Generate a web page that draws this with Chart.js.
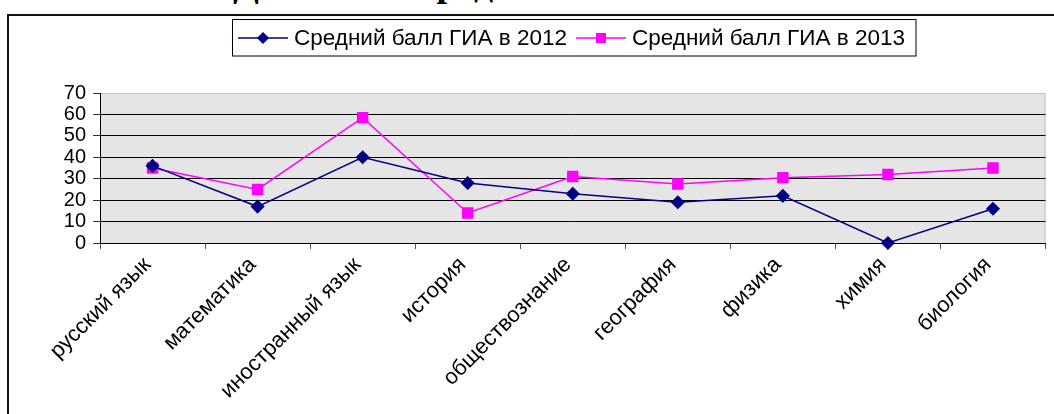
<!DOCTYPE html>
<html>
<head>
<meta charset="utf-8">
<script src="https://cdn.jsdelivr.net/npm/chart.js@4"></script>
<style>
  html, body { margin: 0; padding: 0; background: #fff; }
  #wrap { position: relative; width: 1054px; height: 414px; overflow: hidden; }
  #frame { position: absolute; left: 7px; top: 14px; width: 1200px; height: 600px;
           border-left: 2px solid #111; border-top: 2px solid #111; }
  #title { position: absolute; left: 233px; top: -36px; white-space: nowrap; color: #000;
           font: bold 38px/38px "Liberation Serif", "Times New Roman", serif; }
  canvas { position: absolute; left: 0; top: 0; }
</style>
</head>
<body>
<div id="wrap">
  <div id="title">Динамика средних баллов ГИА</div>
  <div id="frame"></div>
  <canvas id="chart" width="1054" height="414"></canvas>
</div>
<script>
// --- data ---
const subjects = [
  "русский язык", "математика", "иностранный язык", "история",
  "обществознание", "география", "физика", "химия", "биология"
];
const seriesNames = ["Средний балл ГИА в 2012", "Средний балл ГИА в 2013"];
const gia2012 = [36, 17, 40, 28, 23, 19, 22, 0, 16];
const gia2013 = [35, 25, 58.5, 14, 31, 27.5, 30.5, 32, 35];
const yTicks = [0, 10, 20, 30, 40, 50, 60, 70];

const FONT = "'Liberation Sans', Arial, sans-serif";

// grey plot background + light frame on top/right
const plotBg = {
  id: "plotBg",
  beforeDraw(chart) {
    const { ctx, chartArea: a } = chart;
    ctx.save();
    ctx.fillStyle = "#e5e5e5";
    ctx.fillRect(a.left, a.top, a.right - a.left, a.bottom - a.top);
    ctx.strokeStyle = "#c4c4c4";
    ctx.lineWidth = 1;
    ctx.beginPath();
    ctx.moveTo(a.left, a.top + 0.5);
    ctx.lineTo(a.right - 0.5, a.top + 0.5);
    ctx.lineTo(a.right - 0.5, a.bottom);
    ctx.stroke();
    ctx.restore();
  }
};

// boxed legend with line + marker samples (like the original office chart)
const boxLegend = {
  id: "boxLegend",
  afterDraw(chart) {
    const ctx = chart.ctx;
    const cy = 38;
    ctx.save();
    ctx.font = "22.5px " + FONT;
    let x = 238;
    const items = chart.data.datasets.map(ds => {
      const w = ctx.measureText(ds.label).width;
      const it = { ds, x, tx: x + 56, end: x + 56 + w };
      x = it.end + 9;
      return it;
    });
    const right = items[items.length - 1].end + 11;
    ctx.fillStyle = "#fff";
    ctx.fillRect(232.5, 19.5, right - 232.5, 36.5);
    ctx.strokeStyle = "#000";
    ctx.lineWidth = 1;
    ctx.strokeRect(232.5, 19.5, right - 232.5, 36.5);
    items.forEach(it => {
      ctx.strokeStyle = it.ds.borderColor;
      ctx.lineWidth = 1.5;
      ctx.beginPath();
      ctx.moveTo(it.x, cy);
      ctx.lineTo(it.x + 50, cy);
      ctx.stroke();
      ctx.fillStyle = it.ds.pointBackgroundColor;
      ctx.strokeStyle = it.ds.pointBorderColor;
      Chart.helpers.drawPoint(ctx, {
        pointStyle: it.ds.pointStyle, radius: it.ds.pointRadius - 1, rotation: 0, borderWidth: 1
      }, it.x + 25, cy);
      ctx.fillStyle = "#000";
      ctx.textBaseline = "middle";
      ctx.fillText(it.ds.label, it.tx, cy + 1);
    });
    ctx.restore();
  }
};

new Chart(document.getElementById("chart").getContext("2d"), {
  type: "line",
  data: {
    labels: subjects,
    datasets: [
      {
        label: seriesNames[0],
        data: gia2012,
        borderColor: "#000080",
        borderWidth: 1.5,
        pointStyle: "rectRot",
        pointRadius: 6,
        pointBackgroundColor: "#000080",
        pointBorderColor: "#000080",
        tension: 0,
        clip: false
      },
      {
        label: seriesNames[1],
        data: gia2013,
        borderColor: "#ff00ff",
        borderWidth: 1.5,
        pointStyle: "rect",
        pointRadius: 7,
        pointBackgroundColor: "#ff00ff",
        pointBorderColor: "#ff00ff",
        tension: 0,
        clip: false
      }
    ]
  },
  options: {
    responsive: false,
    animation: false,
    layout: { padding: { top: 93, right: 2, bottom: 0, left: 0 } },
    plugins: { legend: { display: false }, tooltip: { enabled: false } },
    scales: {
      x: {
        offset: true,
        grid: { offset: true, drawOnChartArea: false, tickLength: 6, color: "#555" },
        border: { color: "#000", width: 1 },
        ticks: {
          autoSkip: false, minRotation: 45, maxRotation: 45, padding: 3, labelOffset: -5,
          color: "#000", font: { family: FONT, size: 22 }
        },
        afterFit: s => { s.height = 171; }
      },
      y: {
        min: 0, max: 70,
        afterBuildTicks: s => { s.ticks = yTicks.map(v => ({ value: v })); },
        grid: {
          color: c => (c.tick.value === 70 ? "#c4c4c4" : "#000"),
          tickColor: "#333",
          tickLength: 7
        },
        border: { color: "#000", width: 1 },
        ticks: { autoSkip: false, padding: 7, color: "#000", font: { family: FONT, size: 20 } },
        afterFit: s => { s.width = 100; }
      }
    }
  },
  plugins: [plotBg, boxLegend]
});
</script>
</body>
</html>
